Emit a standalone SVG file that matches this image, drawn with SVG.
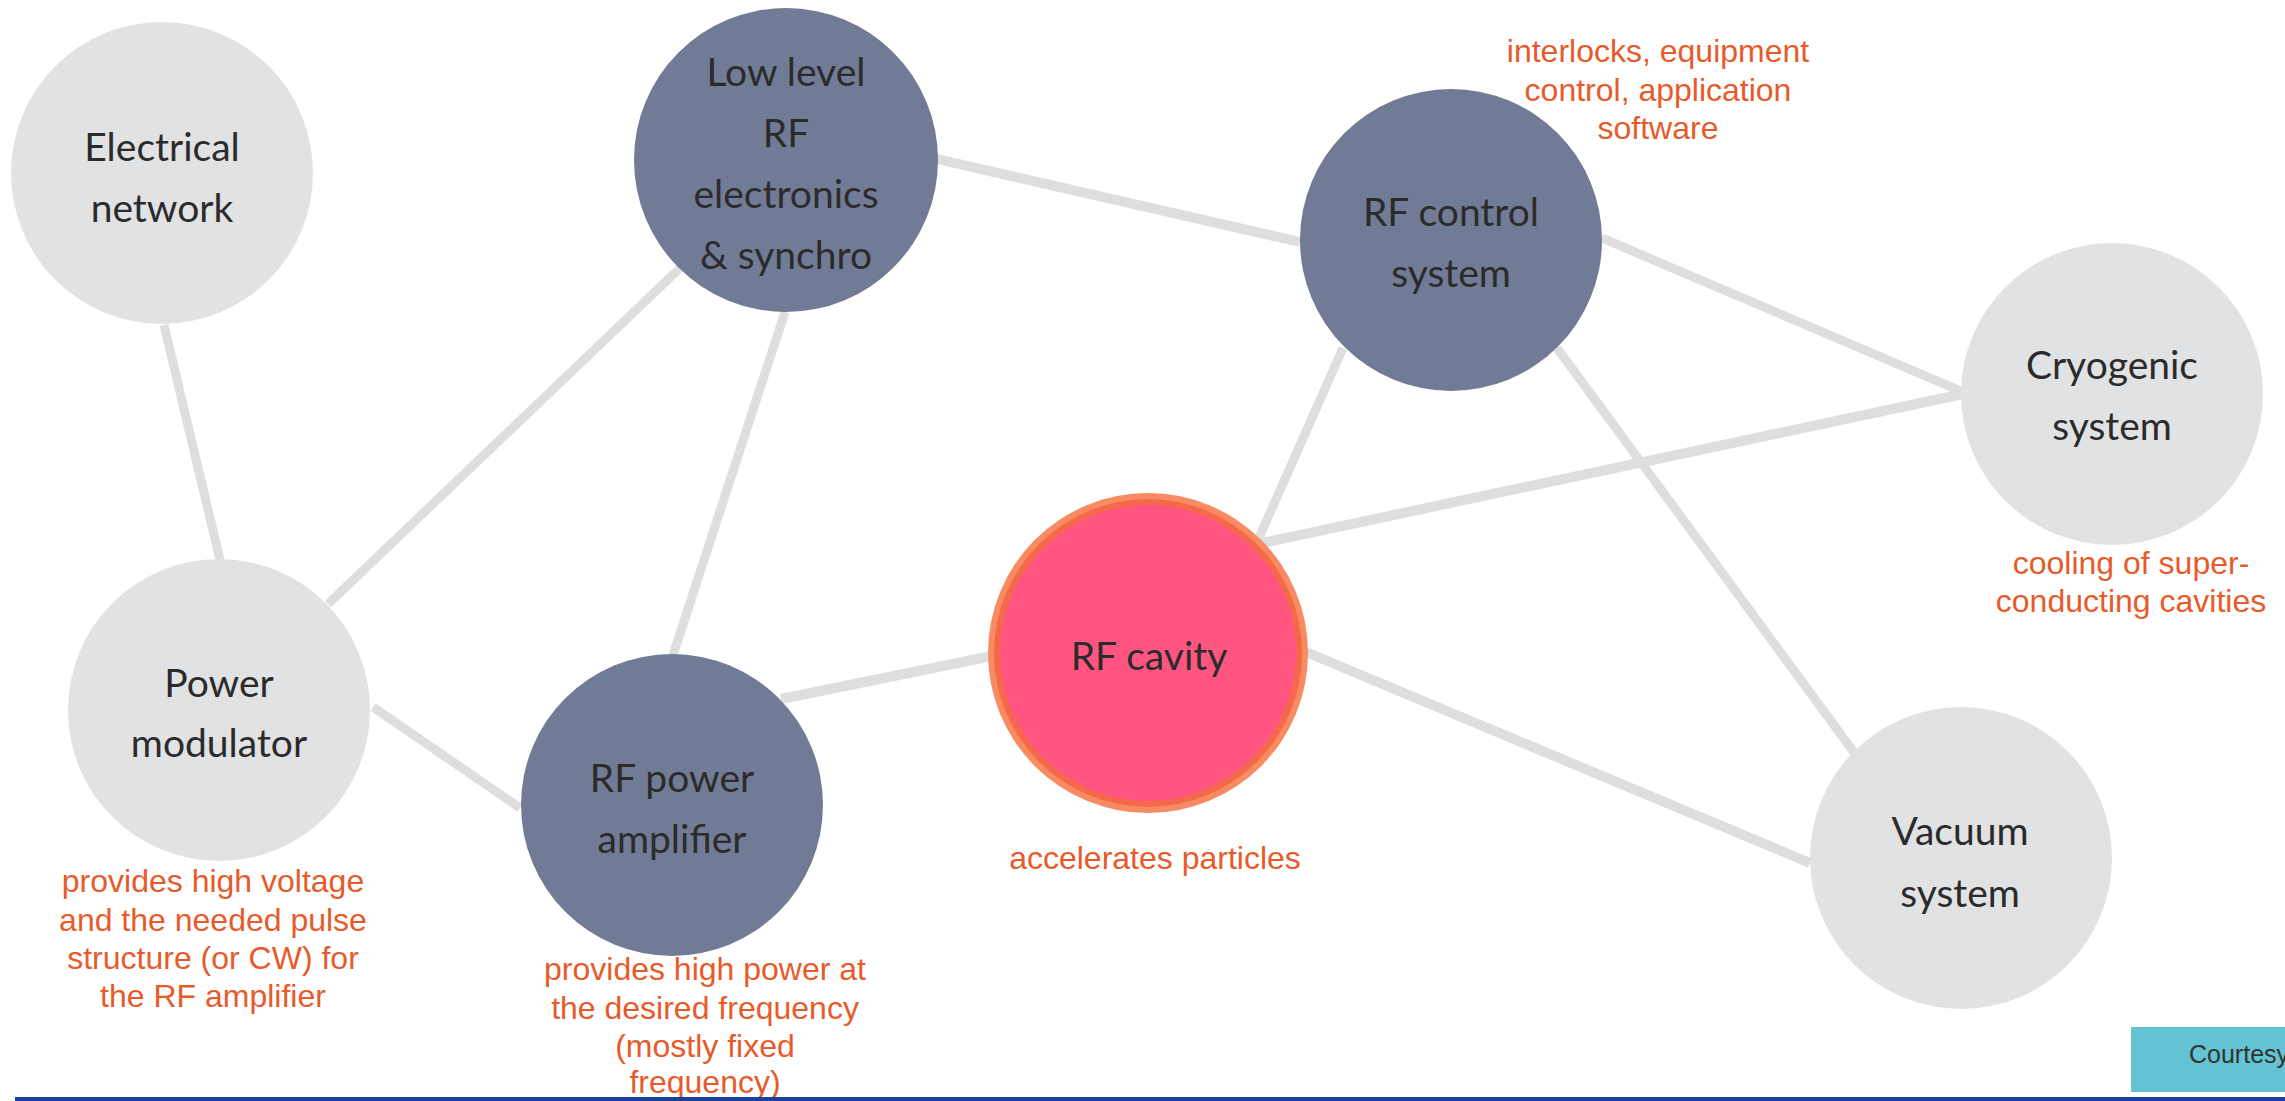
<svg xmlns="http://www.w3.org/2000/svg" width="2285" height="1101" viewBox="0 0 2285 1101">
<style>
.light{fill:#E1E2E4}
.dark{fill:#717B96}
.lbl{font-family:Lato,"Open Sans",sans-serif;font-size:39px;fill:#2B2B2B;text-anchor:middle}
.note{font-family:"Liberation Sans",Arial,sans-serif;font-size:32px;fill:#E85A2A;text-anchor:middle}
.edge{stroke:#DEDEDE;stroke-width:9;fill:none}
.thick{stroke-width:10}
</style>
<rect width="2285" height="1101" fill="#FFFFFF"/>
<g id="connectors">
<line class="edge" x1="164" y1="325" x2="220" y2="560"/>
<line class="edge" x1="328" y1="604" x2="680" y2="268"/>
<line class="edge" x1="373" y1="707" x2="520" y2="808"/>
<line class="edge" x1="785" y1="312" x2="673" y2="655"/>
<line class="edge thick" x1="937" y1="159" x2="1300" y2="242"/>
<line class="edge" x1="1602" y1="238" x2="1963" y2="392"/>
<line class="edge thick" x1="1262" y1="543" x2="1963" y2="394"/>
<line class="edge" x1="1343" y1="348" x2="1258" y2="540"/>
<line class="edge" x1="1557" y1="348" x2="1856" y2="755"/>
<line class="edge thick" x1="1306" y1="652" x2="1810" y2="863"/>
<line class="edge thick" x1="781" y1="699" x2="992" y2="656"/>
</g>
<g id="electrical-network">
<circle class="light" cx="162" cy="173" r="151"/>
<text class="lbl" x="162" y="161">Electrical</text>
<text class="lbl" x="162" y="222">network</text>
</g>
<g id="low-level-rf">
<circle class="dark" cx="786" cy="160" r="152"/>
<text class="lbl" x="786" y="86">Low level</text>
<text class="lbl" x="786" y="147">RF</text>
<text class="lbl" x="786" y="208">electronics</text>
<text class="lbl" x="786" y="269">&amp; synchro</text>
</g>
<g id="rf-control-system">
<circle class="dark" cx="1451" cy="240" r="151"/>
<text class="lbl" x="1451" y="226">RF control</text>
<text class="lbl" x="1451" y="287">system</text>
<text class="note" x="1658" y="62">interlocks, equipment</text>
<text class="note" x="1658" y="101">control, application</text>
<text class="note" x="1658" y="139">software</text>
</g>
<g id="cryogenic-system">
<circle class="light" cx="2112" cy="394" r="151"/>
<text class="lbl" x="2112" y="379">Cryogenic</text>
<text class="lbl" x="2112" y="440">system</text>
<text class="note" x="2131" y="574">cooling of super-</text>
<text class="note" x="2131" y="612">conducting cavities</text>
</g>
<g id="power-modulator">
<circle class="light" cx="219" cy="710" r="151"/>
<text class="lbl" x="219" y="697">Power</text>
<text class="lbl" x="219" y="757">modulator</text>
<text class="note" x="213" y="892">provides high voltage</text>
<text class="note" x="213" y="931">and the needed pulse</text>
<text class="note" x="213" y="969">structure (or CW) for</text>
<text class="note" x="213" y="1007">the RF amplifier</text>
</g>
<g id="rf-power-amplifier">
<circle class="dark" cx="672" cy="805" r="151"/>
<text class="lbl" x="672" y="792">RF power</text>
<text class="lbl" x="672" y="853">amplifier</text>
<text class="note" x="705" y="980">provides high power at</text>
<text class="note" x="705" y="1019">the desired frequency</text>
<text class="note" x="705" y="1057">(mostly fixed</text>
<text class="note" x="705" y="1093">frequency)</text>
</g>
<g id="rf-cavity">
<circle cx="1148" cy="653" r="160" fill="#F98B62"/>
<circle cx="1148" cy="653" r="154" fill="#F5694A"/>
<circle cx="1148" cy="653" r="148" fill="#FF5580"/>
<text class="lbl" x="1149" y="670">RF cavity</text>
<text class="note" x="1155" y="869">accelerates particles</text>
</g>
<g id="vacuum-system">
<circle class="light" cx="1961" cy="858" r="151"/>
<text class="lbl" x="1960" y="845">Vacuum</text>
<text class="lbl" x="1960" y="907">system</text>
</g>
<g id="courtesy">
<rect x="2131" y="1027" width="154" height="65" fill="#62C4D2"/>
<text x="2189" y="1063" font-family="Liberation Sans,Arial,sans-serif" font-size="25" fill="#333333">Courtesy</text>
</g>
<rect x="15" y="1097" width="2270" height="4" fill="#1C3E9E"/>
</svg>
